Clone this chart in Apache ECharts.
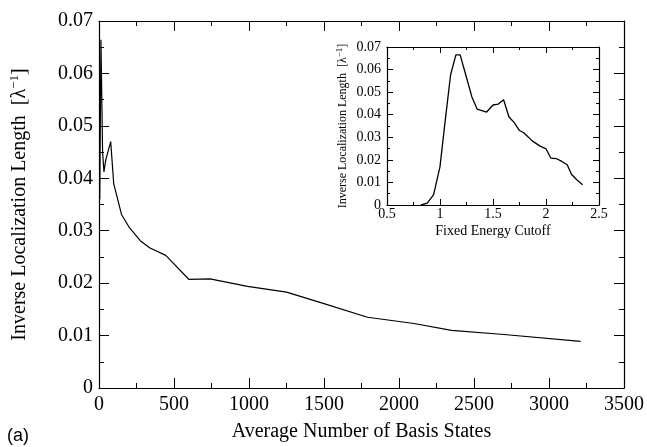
<!DOCTYPE html>
<html>
<head>
<meta charset="utf-8">
<script src="https://cdn.jsdelivr.net/npm/echarts@6/dist/echarts.min.js"></script>
<style>
  html, body { margin: 0; padding: 0; background: #fff; }
  #chart { width: 647px; height: 447px; }
</style>
</head>
<body>
<div id="chart"></div>
<script>
// main curve: inverse localization length vs average number of basis states
const basisStates = [5, 13, 24, 33, 45, 78, 98, 150, 200, 275, 340, 445, 600, 740, 990, 1250, 1500, 1790, 2100, 2350, 2700, 3210]
const mainLength = [0.036, 0.0664, 0.0450, 0.0412, 0.0435, 0.0470, 0.0390, 0.0331, 0.0307, 0.0281, 0.0267, 0.0253, 0.0207, 0.0208, 0.0194, 0.0183, 0.0161, 0.0135, 0.0123, 0.0110, 0.0102, 0.0089]

// inset: inverse localization length vs fixed energy cutoff
const energyCutoff = [0.82, 0.88, 0.94, 1.0, 1.05, 1.1, 1.15, 1.19, 1.25, 1.3, 1.35, 1.44, 1.5, 1.55, 1.6, 1.65, 1.7, 1.75, 1.79, 1.87, 1.94, 2.0, 2.045, 2.1, 2.15, 2.2, 2.24, 2.29, 2.345]
const insetLength = [0, 0.0008, 0.0046, 0.017, 0.0377, 0.0577, 0.0665, 0.0665, 0.0565, 0.048, 0.0425, 0.0412, 0.0443, 0.0447, 0.0466, 0.0391, 0.0365, 0.0330, 0.0320, 0.0284, 0.0262, 0.0249, 0.0208, 0.0205, 0.0193, 0.0178, 0.0136, 0.0112, 0.0090]

const serif = 'Liberation Serif'
const black = '#000'
const plain = v => String(+v.toFixed(4)) // no thousands separators

// shared look for the framed axes (ticks inside, minor ticks, mirrored on all sides)
function frameAxis(extra, tickLen, minorLen) {
    return Object.assign({
        type: 'value',
        axisLine: { show: true, onZero: false, lineStyle: { color: black, width: 1.2 } },
        axisTick: { show: true, inside: true, length: tickLen, lineStyle: { color: black, width: 1 } },
        minorTick: { show: true, splitNumber: 2, length: minorLen, lineStyle: { color: black, width: 1 } },
        splitLine: { show: false },
        minorSplitLine: { show: false }
    }, extra)
}

const chart = echarts.init(document.getElementById('chart'))

chart.setOption({
    animation: false,
    backgroundColor: '#fff',
    grid: [
        { left: 97, right: 23, top: 21, bottom: 56 },
        { left: 387, right: 48, top: 47, bottom: 242, show: true, backgroundColor: '#fff', borderWidth: 0, z: 5 }
    ],
    graphic: [
        {
            type: 'text',
            left: 7,
            top: 427,
            style: { text: '(a)', font: '18px "Liberation Sans"', fill: black }
        }
    ],
    xAxis: [
        frameAxis({
            gridIndex: 0, position: 'bottom', min: 0, max: 3500, interval: 500,
            name: 'Average Number of Basis States', nameLocation: 'middle', nameGap: 34,
            nameTextStyle: { fontFamily: serif, fontSize: 20, color: black },
            axisLabel: { fontFamily: serif, fontSize: 20, color: black, margin: 7, formatter: plain }
        }, 10, 5),
        frameAxis({
            gridIndex: 0, position: 'top', min: 0, max: 3500, interval: 500,
            axisLabel: { show: false }
        }, 10, 5),
        frameAxis({
            gridIndex: 1, position: 'bottom', min: 0.5, max: 2.5, interval: 0.5, z: 6,
            name: 'Fixed Energy Cutoff', nameLocation: 'middle', nameGap: 19,
            nameTextStyle: { fontFamily: serif, fontSize: 14, color: black },
            axisLabel: { fontFamily: serif, fontSize: 14, color: black, margin: 2, formatter: plain }
        }, 6, 3),
        frameAxis({
            gridIndex: 1, position: 'top', min: 0.5, max: 2.5, interval: 0.5, z: 6,
            axisLabel: { show: false }
        }, 6, 3)
    ],
    yAxis: [
        frameAxis({
            gridIndex: 0, position: 'left', min: 0, max: 0.07, interval: 0.01,
            name: 'Inverse Localization Length  [λ{sup|−1}]', nameLocation: 'middle', nameGap: 68,
            nameTextStyle: {
                fontFamily: serif, fontSize: 20, color: black,
                rich: { sup: { fontFamily: serif, fontSize: 13, color: black, padding: [0, 0, 10, 0] } }
            },
            axisLabel: { fontFamily: serif, fontSize: 20, color: black, margin: 6, formatter: plain }
        }, 10, 5),
        frameAxis({
            gridIndex: 0, position: 'right', min: 0, max: 0.07, interval: 0.01,
            axisLabel: { show: false }
        }, 10, 5),
        frameAxis({
            gridIndex: 1, position: 'left', min: 0, max: 0.07, interval: 0.01, z: 6,
            name: 'Inverse Localization Length  [λ{sup|−1}]', nameLocation: 'middle', nameGap: 37,
            nameTextStyle: {
                fontFamily: serif, fontSize: 12, color: black,
                rich: { sup: { fontFamily: serif, fontSize: 9, color: black, padding: [0, 0, 6, 0] } }
            },
            axisLabel: { fontFamily: serif, fontSize: 14, color: black, margin: 6, formatter: plain }
        }, 6, 3),
        frameAxis({
            gridIndex: 1, position: 'right', min: 0, max: 0.07, interval: 0.01, z: 6,
            axisLabel: { show: false }
        }, 6, 3)
    ],
    series: [
        {
            type: 'line',
            xAxisIndex: 0,
            yAxisIndex: 0,
            data: basisStates.map((x, i) => [x, mainLength[i]]),
            showSymbol: false,
            lineStyle: { color: black, width: 1.2 }
        },
        {
            type: 'line',
            xAxisIndex: 2,
            yAxisIndex: 2,
            data: energyCutoff.map((x, i) => [x, insetLength[i]]),
            showSymbol: false,
            lineStyle: { color: black, width: 1.3 },
            z: 7
        }
    ]
})
</script>
</body>
</html>
